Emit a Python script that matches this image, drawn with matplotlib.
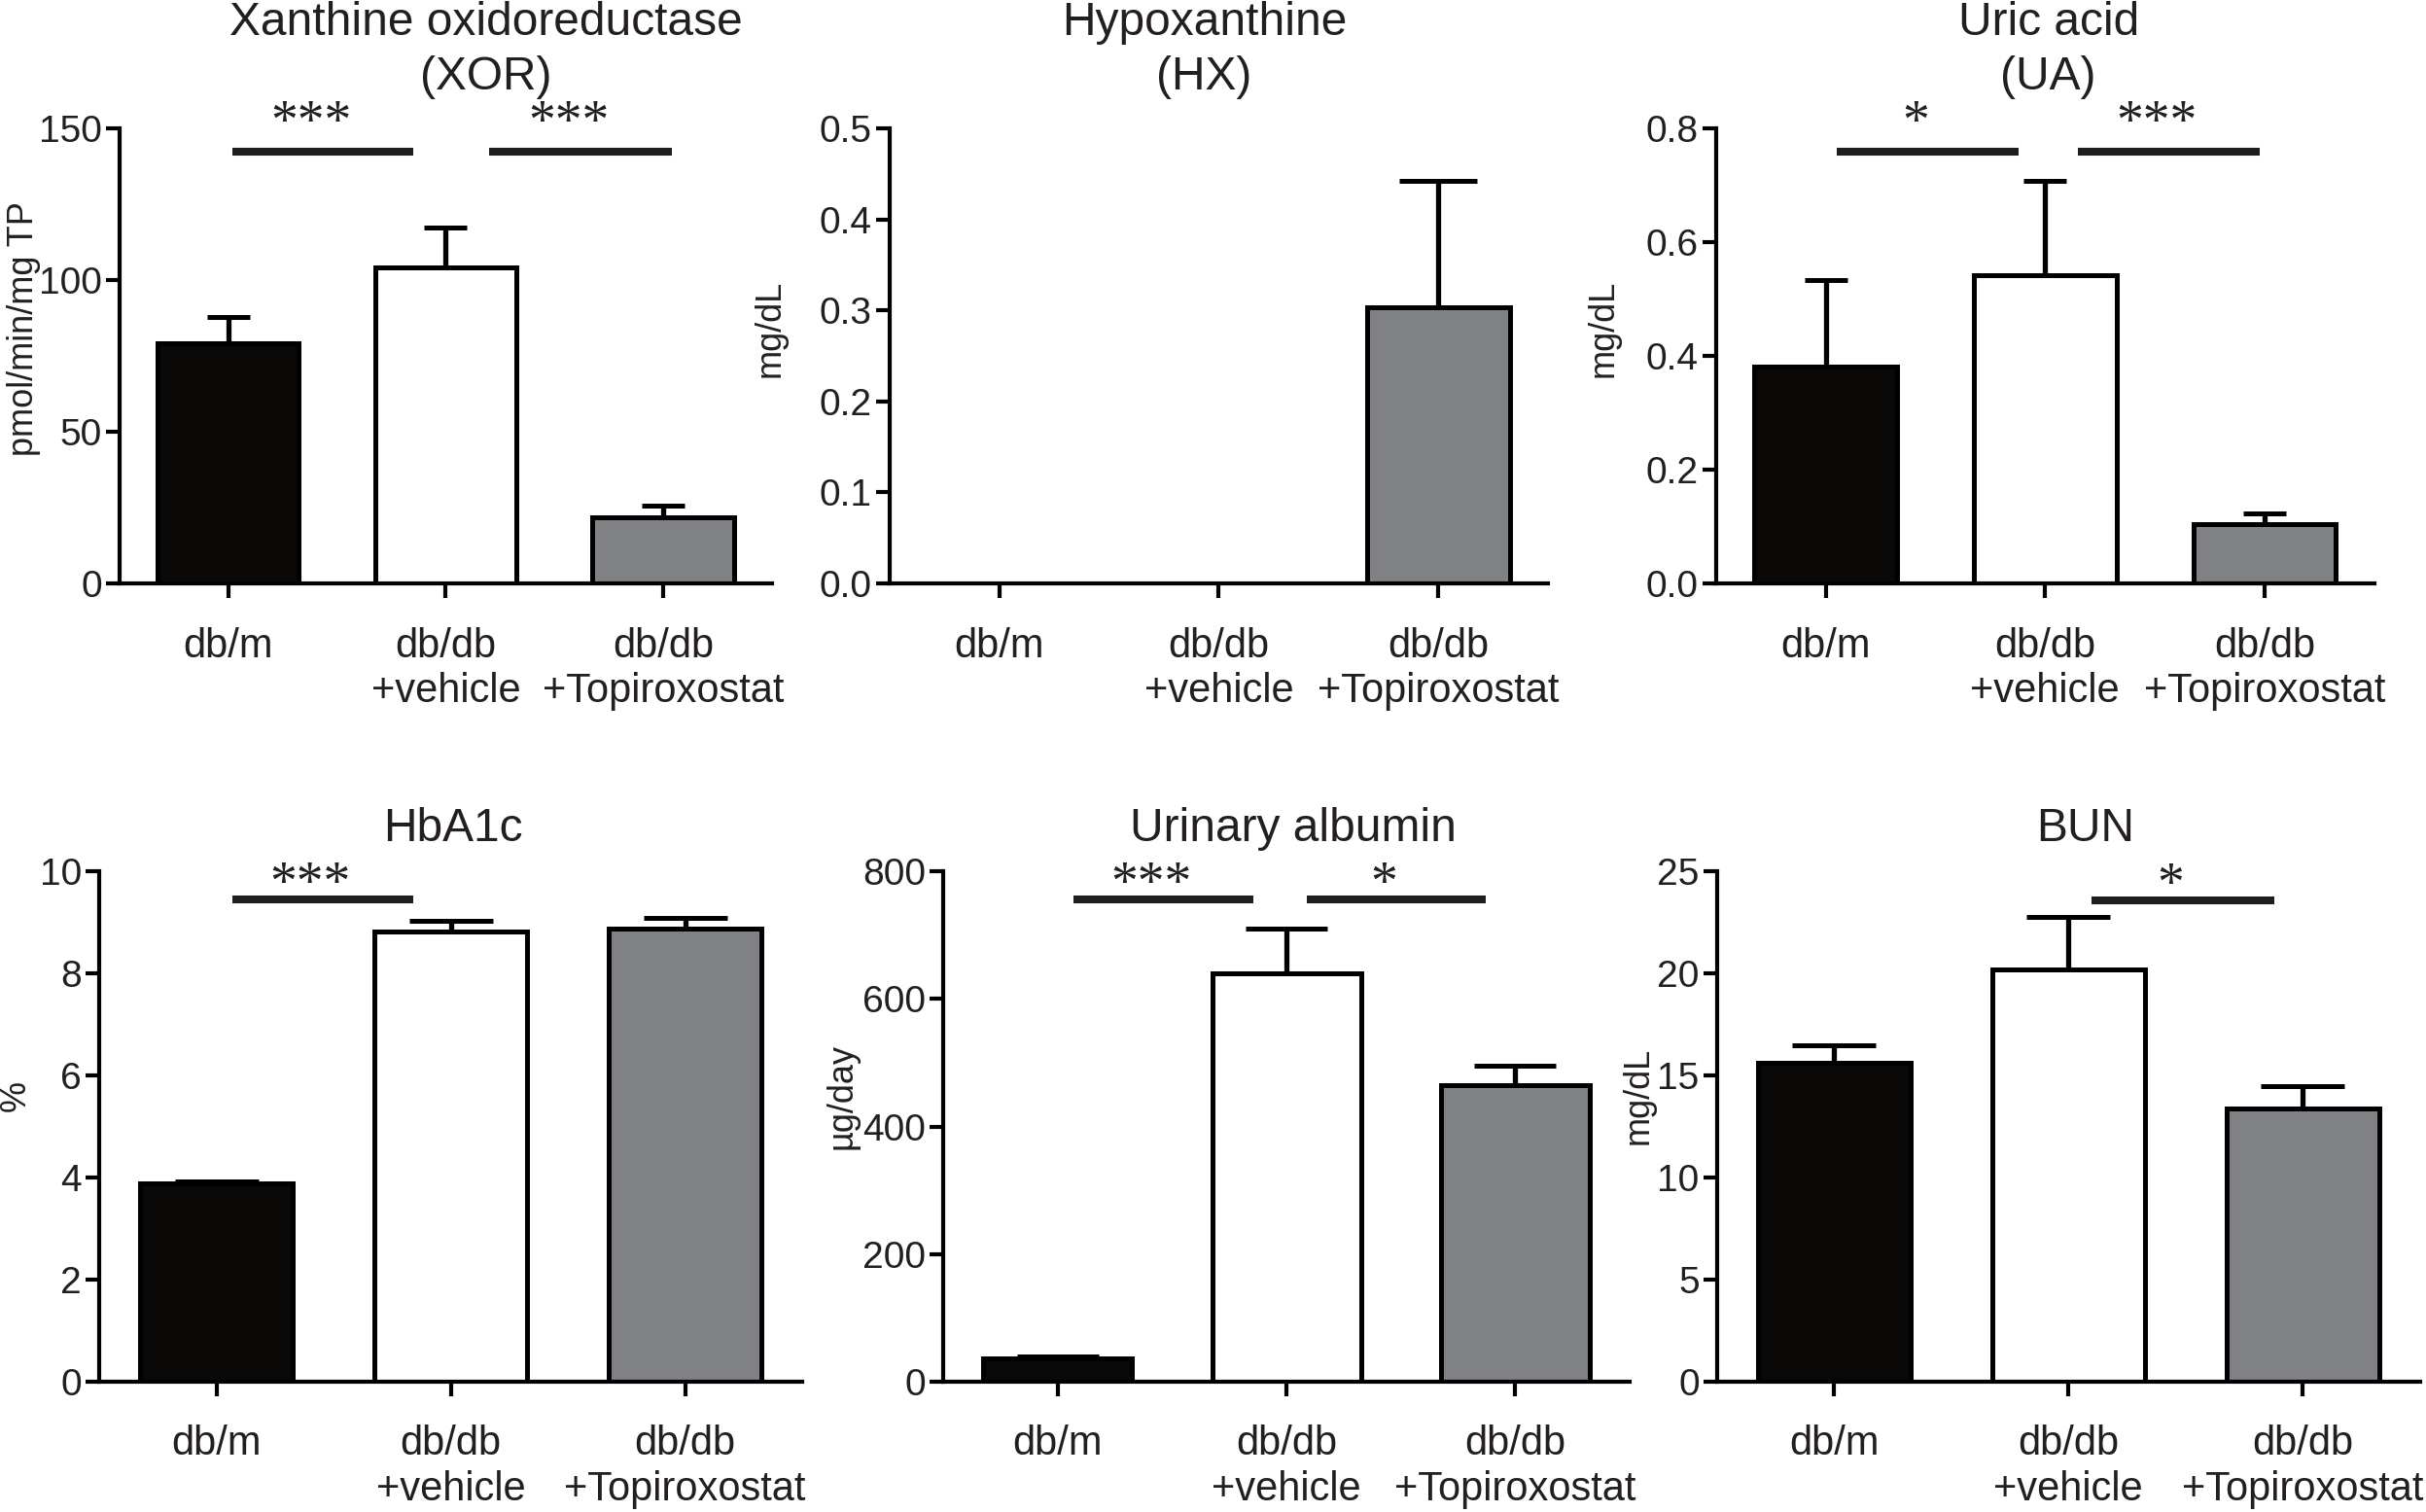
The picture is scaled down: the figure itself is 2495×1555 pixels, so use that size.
import matplotlib
matplotlib.use("Agg")
import matplotlib.pyplot as plt
import numpy as np

plt.rcParams['font.family'] = ['Liberation Sans', 'DejaVu Sans']

# ---------------- data ----------------
groups = ['db/m', 'db/db\n+vehicle', 'db/db\n+Topiroxostat']

xor_mean = [79.3, 104.0, 21.7]
xor_err = [8.6, 13.4, 4.1]
hx_mean = [0.0, 0.0, 0.303]
hx_err = [0.0, 0.0, 0.139]
ua_mean = [0.381, 0.541, 0.104]
ua_err = [0.152, 0.166, 0.020]
hba1c_mean = [3.89, 8.83, 8.89]
hba1c_err = [0.04, 0.21, 0.21]
alb_mean = [36.7, 640.0, 464.6]
alb_err = [3.0, 70.5, 31.0]
bun_mean = [15.64, 20.18, 13.39]
bun_err = [0.85, 2.60, 1.08]

titles = ['Xanthine oxidoreductase\n(XOR)', 'Hypoxanthine\n(HX)', 'Uric acid\n(UA)',
          'HbA1c', 'Urinary albumin', 'BUN']
ylabels = ['pmol/min/mg TP', 'mg/dL', 'mg/dL', '%', 'µg/day', 'mg/dL']

xor_ticks = [0, 50, 100, 150]
hx_ticks = [0.0, 0.1, 0.2, 0.3, 0.4, 0.5]
ua_ticks = [0.0, 0.2, 0.4, 0.6, 0.8]
hba1c_ticks = [0, 2, 4, 6, 8, 10]
alb_ticks = [0, 200, 400, 600, 800]
bun_ticks = [0, 5, 10, 15, 20, 25]

# significance brackets: (x start, x end, y level, label)
xor_sig = [(0.02, 0.85, 142.2, '***'), (1.20, 2.04, 142.2, '***')]
hx_sig = []
ua_sig = [(0.05, 0.88, 0.759, '*'), (1.15, 1.98, 0.759, '***')]
hba1c_sig = [(0.07, 0.84, 9.45, '***')]
alb_sig = [(0.07, 0.855, 756, '***'), (1.09, 1.87, 756, '*')]
bun_sig = [(1.10, 1.88, 23.6, '*')]

# ---------------- style ----------------
TXT = '#231f20'
bar_fill = ['#0b0808', '#ffffff', '#808185']

panels = [
    dict(mean=xor_mean, err=xor_err, ticks=xor_ticks, sig=xor_sig, fmt='{:.0f}',
         rect=(0.0492, 0.6141, 0.2690, 0.3011), cap=15.5, tx=0.562, yl=-0.147, toff=21.6, soff=10),
    dict(mean=hx_mean, err=hx_err, ticks=hx_ticks, sig=hx_sig, fmt='{:.1f}',
         rect=(0.3666, 0.6141, 0.2715, 0.3011), cap=29, tx=0.478, yl=-0.181, toff=21.6, soff=10),
    dict(mean=ua_mean, err=ua_err, ticks=ua_ticks, sig=ua_sig, fmt='{:.1f}',
         rect=(0.7073, 0.6141, 0.2714, 0.3011), cap=15.5, tx=0.505, yl=-0.171, toff=21.6, soff=10),
    dict(mean=hba1c_mean, err=hba1c_err, ticks=hba1c_ticks, sig=hba1c_sig, fmt='{:.0f}',
         rect=(0.0409, 0.0862, 0.2898, 0.3374), cap=31, tx=0.503, yl=-0.119, toff=15, soff=0),
    dict(mean=alb_mean, err=alb_err, ticks=alb_ticks, sig=alb_sig, fmt='{:.0f}',
         rect=(0.3889, 0.0862, 0.2828, 0.3374), cap=30, tx=0.51, yl=-0.148, toff=15, soff=0),
    dict(mean=bun_mean, err=bun_err, ticks=bun_ticks, sig=bun_sig, fmt='{:.0f}',
         rect=(0.7077, 0.0862, 0.2898, 0.3374), cap=31, tx=0.524, yl=-0.112, toff=15, soff=0),
]

fig = plt.figure(figsize=(24.95, 15.55), dpi=100)

for i, p in enumerate(panels):
    ax = fig.add_axes(p['rect'])
    x = np.arange(len(groups))
    mean = np.array(p['mean'])
    err = np.array(p['err'])
    ax.bar(x, mean, width=0.65, color=bar_fill, edgecolor='black', linewidth=3.6, zorder=2)
    m = err > 0
    ax.errorbar(x[m], mean[m], yerr=[np.zeros(m.sum()), err[m]], fmt='none', ecolor='black',
                elinewidth=3.8, capsize=p['cap'], capthick=3.6, zorder=1)
    ax.set_xlim(-0.5, 2.5)
    ax.set_ylim(p['ticks'][0], p['ticks'][-1])
    ax.set_yticks(p['ticks'])
    ax.set_yticklabels([p['fmt'].format(t) for t in p['ticks']])
    ax.set_xticks(x)
    ax.set_xticklabels(groups, fontsize=30, color=TXT, linespacing=1.22)
    for s in ['top', 'right']:
        ax.spines[s].set_visible(False)
    for s in ['left', 'bottom']:
        ax.spines[s].set_linewidth(3.0)
        ax.spines[s].set_color('black')
    ax.tick_params(axis='y', direction='out', length=10, width=3.0, labelsize=28,
                   labelcolor=TXT, pad=3)
    ax.tick_params(axis='x', direction='out', length=11, width=3.0, pad=21)
    ax.set_ylabel(ylabels[i], fontsize=26, color=TXT)
    ax.yaxis.label.set_verticalalignment('center')
    ax.yaxis.set_label_coords(p['yl'], 0.56)
    ax.annotate(titles[i], xy=(p['tx'], 1.0), xycoords='axes fraction',
                xytext=(0, p['toff']), textcoords='offset points',
                ha='center', va='bottom', fontsize=34.5, color=TXT, linespacing=1.31,
                annotation_clip=False)
    for (x0, x1, y, lab) in p['sig']:
        ax.plot([x0, x1], [y, y], color='#1e1e1e', linewidth=5.8, solid_capstyle='butt',
                clip_on=False, zorder=3)
        ax.annotate(lab, xy=((x0 + x1) / 2 - 0.055, y), xycoords='data',
                    xytext=(0, p['soff']), textcoords='offset points', ha='center',
                    va='baseline', fontsize=40, color=TXT,
                    family=['Liberation Serif', 'DejaVu Serif'], annotation_clip=False)

fig.savefig('out.png', dpi=100, facecolor='white')
